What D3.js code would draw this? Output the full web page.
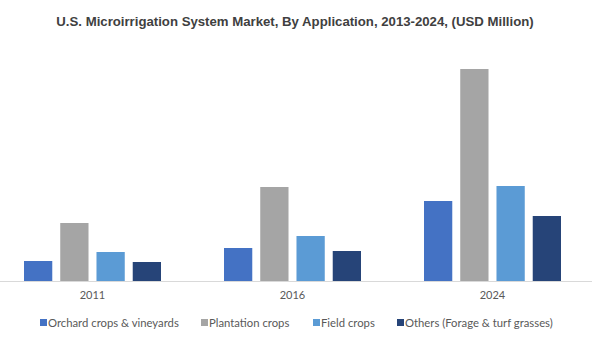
<!DOCTYPE html>
<html>
<head>
<meta charset="utf-8">
<script src="https://cdn.jsdelivr.net/npm/d3@7"></script>
<style>
  body { margin: 0; background: #fff; }
</style>
</head>
<body>
<div id="svganchor"></div>
<script>
// chart data (USD Million)
let years = ["2011", "2016", "2024"];
let series = ["Orchard crops & vineyards", "Plantation crops", "Field crops", "Others (Forage & turf grasses)"];
let orchard = [100, 165, 400];
let plantation = [290, 470, 1060];
let field = [145, 225, 475];
let others = [95, 150, 325];
let colors = ["#4472C4", "#A5A5A5", "#5B9BD5", "#264478"];

let width = 608, height = 362;
let baseline = 281;

let svg = d3.select("#svganchor").append("svg")
    .attr("width", width)
    .attr("height", height);

// title
svg.append("text")
    .attr("x", 295)
    .attr("y", 26)
    .attr("text-anchor", "middle")
    .attr("font-family", "Liberation Sans, Arial, sans-serif")
    .attr("font-weight", "bold")
    .attr("font-size", 13.2)
    .attr("fill", "#404040")
    .text("U.S. Microirrigation System Market, By Application, 2013-2024, (USD Million)");

let x0 = d3.scaleBand().domain(years).range([-7.5, 592.5]);
let x1 = d3.scaleBand().domain(series).range([31.5, 168.5]).paddingInner(0.22);
let y = d3.scaleLinear().domain([0, 1200]).range([baseline, baseline - 240]);

let values = [orchard, plantation, field, others];
let rows = [];
years.forEach(function (yr, i) {
    series.forEach(function (s, j) {
        rows.push({year: yr, series: s, value: values[j][i], color: colors[j]});
    });
});

svg.selectAll(".bar")
    .data(rows)
    .enter()
    .append("rect")
    .attr("class", "bar")
    .attr("x", d => x0(d.year) + x1(d.series))
    .attr("width", x1.bandwidth())
    .attr("y", d => y(d.value))
    .attr("height", d => y(0) - y(d.value))
    .attr("fill", d => d.color);

// x axis
let xAxis = d3.axisBottom(x0).tickSize(0).tickPadding(10);
let gx = svg.append("g")
    .attr("transform", "translate(0," + baseline + ")")
    .call(xAxis);
gx.select(".domain").attr("d", "M0,0.5H592").attr("stroke", "#D9D9D9");
gx.selectAll("text")
    .attr("font-family", "Lato, Open Sans, sans-serif")
    .attr("font-size", 11)
    .attr("fill", "#595959");

// legend
let legendX = [40, 201, 313, 397];
let legend = svg.selectAll(".legend")
    .data(series)
    .enter()
    .append("g")
    .attr("class", "legend")
    .attr("transform", (d, i) => "translate(" + legendX[i] + ",323)");
legend.append("rect")
    .attr("x", 0).attr("y", -4)
    .attr("width", 7).attr("height", 7)
    .attr("fill", (d, i) => colors[i]);
legend.append("text")
    .attr("x", 8)
    .attr("y", 4)
    .attr("font-family", "Lato, Open Sans, sans-serif")
    .attr("font-size", 11.3)
    .attr("fill", "#595959")
    .text(d => d);
</script>
</body>
</html>
